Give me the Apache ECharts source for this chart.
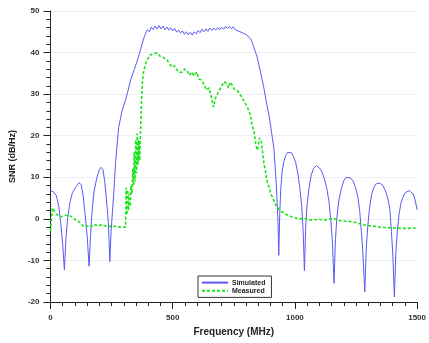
<!DOCTYPE html>
<html>
<head>
<meta charset="utf-8">
<script src="https://cdn.jsdelivr.net/npm/echarts@6/dist/echarts.min.js"></script>
<style>
html,body{margin:0;padding:0;background:#fff;}
#c{width:429px;height:343px;}
</style>
</head>
<body>
<div id="c"></div>
<script>
const xTicks = [0, 500, 1000, 1500];
const yTicks = [-20, -10, 0, 10, 20, 30, 40, 50];

const simFreq = [0,12,24,34,42,50,57,63,70,80,90,103,117,126,134,142,150,158,164,170,178,190,200,207,215,222,230,237,243,248,254,259,267,279,293,307,315,328,343,356,370,382,390,397,405,412,420,428,436,444,452,460,468,476,484,492,500,508,516,524,532,540,548,556,564,572,580,588,596,604,612,620,628,636,644,652,660,668,676,684,692,700,708,716,724,732,740,748,756,764,772,780,788,796,804,812,820,828,836,845,853,862,873,882,894,904,914,920,926,931,934,938,942,948,955,962,970,978,986,994,1003,1012,1020,1028,1034,1039,1044,1050,1058,1067,1077,1088,1098,1108,1120,1130,1140,1148,1154,1160,1166,1172,1180,1190,1200,1210,1218,1228,1238,1248,1258,1265,1272,1278,1286,1292,1298,1305,1314,1322,1330,1340,1350,1360,1370,1380,1388,1395,1401,1407,1413,1419,1426,1434,1444,1452,1460,1468,1476,1484,1492,1500];
const simSnr = [6.8,6.5,5.6,3,-1,-6,-12.3,-5,0,4,6.3,7.6,8.7,8.2,5.5,1,-4,-11.4,-4,1.5,6.5,10,11.8,12.4,11.8,9,4,-1,-10.3,-3,2,6.2,14,22,26,28.6,30.3,33.4,36,38.2,41,43.5,44.7,45.5,45.0,46.1,45.5,46.4,45.7,46.5,45.7,46.4,45.5,46.2,45.4,46,45.2,45.8,44.9,45.4,44.7,45.2,44.4,45,44.3,44.9,44.2,45,44.5,45.3,44.8,45.6,45.0,45.7,45.1,45.9,45.3,45.9,45.4,46,45.5,46.1,45.6,46.3,45.8,46.3,45.7,46.2,45.5,45.9,45.1,45.4,44.7,44.7,44.2,43.9,43.2,42,40.6,39,37,34.5,31.5,28.5,25,21,17,12,6,-1,-8.8,1,7,11.5,13.8,15.2,16,16.3,15.9,15,13.6,11,7.5,3,-3,-12.5,-2,3.5,7.5,10.6,12.2,12.8,12.4,11.6,9.8,7.5,4,-1,-6,-15.5,-5,0.5,4.5,7.3,9.2,10,10.1,9.8,9.1,7.6,5.2,2,-3,-8,-17.6,-7,-2,2.5,5.8,7.4,8.3,8.6,8.5,8,6.8,5,2.5,-3,-9,-18.8,-8,-3,1,3.8,5.5,6.3,6.6,6.8,6.5,6,4.5,2.2];

const measFreq = [0,4,8,15,22,30,40,50,60,73,85,93,105,117,127,137,150,160,170,180,190,200,210,220,230,240,250,265,280,295,307,310,313,316,319,322,326,329,333,337,340,343,346,349,352,355,358,361,365,369,372,376,380,386,393,400,408,415,422,430,437,447,457,467,477,487,497,507,518,528,538,548,558,568,578,588,598,608,619,629,639,649,659,667,675,683,691,700,710,720,728,736,744,752,762,772,780,790,800,808,818,825,833,841,847,855,863,873,881,888,894,902,910,918,926,935,946,960,975,990,1003,1020,1040,1060,1084,1100,1120,1140,1165,1180,1197,1220,1245,1278,1300,1326,1350,1380,1407,1430,1460,1480,1500];
const measSnr = [-3,0,2.6,2.3,1.2,0.8,0.5,0.6,0.8,0.9,0.6,0.2,-0.3,-0.7,-1.3,-1.9,-1.8,-1.5,-1.8,-1.4,-1.6,-1.7,-1.3,-1.6,-1.8,-1.7,-1.9,-1.8,-2,-2,-2,7.5,1,7,2,6,3,8,6,12,8,16,9,19,11,20.5,13,19,14,22,28,33,35,36.5,38,38.6,39.4,39.1,39.8,39.6,39.9,39.2,39,38.6,38.2,37.3,36.5,36.8,35.8,35.2,35.3,36,35.8,34.5,35.3,34.4,35.3,33.6,33.4,32.2,31,31.5,29,26.9,29,28.8,31,31.8,33,32.6,31.5,32.9,32.5,31.2,31,30.3,29.5,28.5,27.5,26.5,25,22.5,21,17.5,16.5,19.5,18.5,13.5,11,8.5,7.7,6,5,3.8,3,2.2,1.7,1.2,0.8,0.4,0.2,0,0.1,-0.3,-0.2,-0.1,-0.3,0,0,-0.4,-0.5,-0.6,-0.8,-1.4,-1.6,-1.8,-2,-2.1,-2.2,-2.3,-2.3,-2.2,-2.3];

const zip = (a, b) => a.map((v, i) => [v, b[i]]);

const chart = echarts.init(document.getElementById('c'), null, {renderer: 'canvas'});
const FONT = 'Liberation Sans, Arial, sans-serif';
chart.setOption({
  animation: false,
  backgroundColor: '#ffffff',
  grid: {left: 49, right: 9, top: 11, bottom: 41, containLabel: false},
  legend: {
    orient: 'vertical',
    left: 198, top: 276,
    itemWidth: 26, itemHeight: 9, itemGap: 1,
    padding: [3, 6, 3, 3],
    borderColor: '#333', borderWidth: 1,
    backgroundColor: '#fff',
    itemStyle: {opacity: 0},
    textStyle: {fontFamily: FONT, fontSize: 7, fontWeight: 'bold', color: '#222', padding: [0,0,0,-1]},
    data: ['Simulated', 'Measured']
  },
  xAxis: {
    type: 'value', min: 0, max: 1500, interval: 500,
    name: 'Frequency (MHz)', nameLocation: 'middle', nameGap: 25,
    nameTextStyle: {fontFamily: FONT, fontSize: 10, fontWeight: 'bold', color: '#222'},
    axisLine: {show: true, onZero: false, lineStyle: {color: '#222', width: 1}},
    axisTick: {show: true, length: 7, lineStyle: {color: '#222'}},
    minorTick: {show: true, splitNumber: 10, length: 4, lineStyle: {color: '#222'}},
    axisLabel: {fontFamily: FONT, fontSize: 8, fontWeight: 'bold', color: '#333', margin: 12,
      formatter: v => xTicks.includes(v) ? String(v) : ''},
    splitLine: {show: false}
  },
  yAxis: {
    type: 'value', min: -20, max: 50, interval: 10,
    name: 'SNR (dB/Hz)', nameLocation: 'middle', nameGap: 31, nameRotate: 90,
    nameTextStyle: {fontFamily: FONT, fontSize: 9, fontWeight: 'bold', color: '#222'},
    axisLine: {show: true, lineStyle: {color: '#222', width: 1}},
    axisTick: {show: true, length: 7, lineStyle: {color: '#222'}},
    minorTick: {show: true, splitNumber: 5, length: 4, lineStyle: {color: '#222'}},
    axisLabel: {fontFamily: FONT, fontSize: 8, fontWeight: 'bold', color: '#333', margin: 11,
      formatter: v => yTicks.includes(v) ? String(v) : ''},
    splitLine: {show: true, lineStyle: {color: '#eeeef4', width: 1}}
  },
  series: [
    {
      name: 'Simulated', type: 'line', data: zip(simFreq, simSnr),
      symbol: 'none', smooth: false,
      lineStyle: {color: '#5a5af0', width: 1},
      itemStyle: {color: '#5a5af0'}
    },
    {
      name: 'Measured', type: 'line', data: zip(measFreq, measSnr),
      symbol: 'none', smooth: false,
      lineStyle: {color: '#19e619', width: 1.6, type: [3, 2]},
      itemStyle: {color: '#19e619'}
    }
  ]
});
</script>
</body>
</html>
